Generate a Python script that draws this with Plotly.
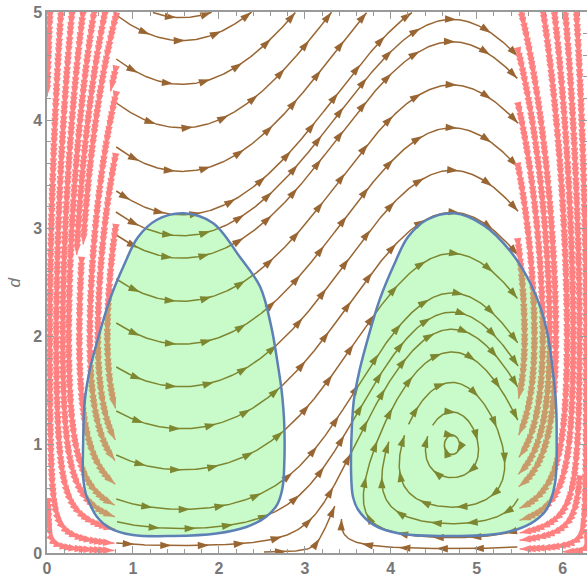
import math
from collections import defaultdict, deque
import plotly.graph_objects as go

# ---------------- data ----------------
W, H = 587, 577
X_RANGE = [0.0, 2 * math.pi]
Y_RANGE = [0.0, 5.0]
X_TICKS = [0, 1, 2, 3, 4, 5, 6]
Y_TICKS = [0, 1, 2, 3, 4, 5]
Y_LABEL = "d"

# theta limits of the brown stream domain (pink streams outside it)
STREAM_SPLIT = [0.8, 2 * math.pi - 0.8]
# pink field coefficients
PINK_TURN_D = 2.0
PINK_K = 0.7
PINK_DRIFT = 0.1
PINK_SPREAD = 0.6

# shaded regions (theta, d)
LEFT_T = [1.585, 1.28, 1.06, 0.89, 0.73, 0.60, 0.50, 0.44, 0.42, 0.42, 0.45, 0.50, 0.58,
          0.73, 1.00, 1.47, 1.97, 2.32, 2.55, 2.68, 2.74, 2.76, 2.76, 2.73, 2.69, 2.61,
          2.48, 2.24, 1.93, 1.585]
LEFT_D = [3.14, 3.08, 2.92, 2.65, 2.34, 2.00, 1.70, 1.41, 1.00, 0.70, 0.55, 0.45, 0.335,
          0.23, 0.166, 0.157, 0.18, 0.24, 0.335, 0.45, 0.60, 0.80, 1.20, 1.50, 1.72, 2.09,
          2.46, 2.74, 3.05, 3.14]
RIGHT_T = [4.74, 4.42, 4.20, 4.03, 3.87, 3.74, 3.64, 3.57, 3.54, 3.54, 3.56, 3.62, 3.80,
           4.10, 4.69, 5.27, 5.62, 5.81, 5.91, 5.93, 5.92, 5.88, 5.83, 5.75, 5.62, 5.40,
           5.08, 4.74]
RIGHT_D = [3.14, 3.08, 2.92, 2.65, 2.34, 2.00, 1.70, 1.41, 1.00, 0.70, 0.52, 0.40, 0.26,
           0.18, 0.157, 0.18, 0.27, 0.40, 0.64, 1.11, 1.41, 1.72, 2.00, 2.25, 2.50, 2.78,
           3.03, 3.14]

BROWN = "#996633"
PINK = "#ff8080"
FILL = "rgba(40,235,40,0.25)"
EDGE = "#5e81b5"
AXIS = "#9a9a9a"
LABEL = "#777777"

# ---------------- layout geometry ----------------
ML, MR, MT, MB = 47, 0, 12, 24
SX = (W - ML - MR) / (X_RANGE[1] - X_RANGE[0])
SY = (H - MT - MB) / (Y_RANGE[1] - Y_RANGE[0])


def brown_vec(t, d):
    return d + math.sin(t), -d * math.cos(t)


def pink_left(t, d):
    if d < PINK_TURN_D:
        u = math.sin(t) * (1 - d / PINK_TURN_D)
    else:
        u = -(d / PINK_TURN_D - 1) * (PINK_DRIFT + PINK_SPREAD * math.sin(t))
    return u, -PINK_K * d * math.cos(t)


def pink_vec(t, d):
    if t > math.pi:
        u, v = pink_left(2 * math.pi - t, d)
        return -u, v
    return pink_left(t, d)


def streamlines(vec, xlo, xhi, ylo, yhi, dsep, dtest, step, seeds, fallback, min_len):
    cell = dsep
    grid = defaultdict(list)
    lines = []
    lag = int(3 * dsep / step)

    def key(x, y):
        return (int(x // cell), int(y // cell))

    def direction(x, y):
        u, v = vec(x / SX, y / SY)
        U, V = u * SX, v * SY
        n = math.hypot(U, V)
        if n < 1e-7:
            return None
        return U / n, V / n

    def inside(x, y):
        return xlo <= x <= xhi and ylo <= y <= yhi

    def clear(x, y, dist):
        cx, cy = key(x, y)
        d2 = dist * dist
        for i in (cx - 1, cx, cx + 1):
            for j in (cy - 1, cy, cy + 1):
                for (px, py) in grid.get((i, j), ()):
                    if (px - x) ** 2 + (py - y) ** 2 < d2:
                        return False
        return True

    def integrate(x0, y0):
        local = defaultdict(list)
        local[key(x0, y0)].append((x0, y0, 0))
        dt2 = dtest * dtest

        def own_clear(x, y, idx):
            cx, cy = key(x, y)
            for i in (cx - 1, cx, cx + 1):
                for j in (cy - 1, cy, cy + 1):
                    for (px, py, k) in local.get((i, j), ()):
                        if abs(k - idx) > lag and (px - x) ** 2 + (py - y) ** 2 < dt2:
                            return False
            return True

        parts = []
        for sgn in (1, -1):
            pts = []
            x, y = x0, y0
            for n in range(1, 4000):
                d1 = direction(x, y)
                if d1 is None:
                    break
                xm, ym = x + sgn * d1[0] * step * 0.5, y + sgn * d1[1] * step * 0.5
                d2 = direction(xm, ym)
                if d2 is None:
                    break
                xn, yn = x + sgn * d2[0] * step, y + sgn * d2[1] * step
                if not inside(xn, yn):
                    break
                if not clear(xn, yn, dtest):
                    break
                idx = sgn * n
                if not own_clear(xn, yn, idx):
                    break
                local[key(xn, yn)].append((xn, yn, idx))
                pts.append((xn, yn))
                x, y = xn, yn
            parts.append(pts)
        fwd, bwd = parts
        return bwd[::-1] + [(x0, y0)] + fwd

    queue = deque(seeds)
    fb = deque(fallback)
    m = max(1, int(dsep / (2 * step)))
    while queue or fb:
        if queue:
            x, y = queue.popleft()
        else:
            x, y = fb.popleft()
        if not inside(x, y) or not clear(x, y, dsep):
            continue
        line = integrate(x, y)
        if (len(line) - 1) * step < min_len:
            continue
        for (px, py) in line:
            grid[key(px, py)].append((px, py))
        lines.append(line)
        for i in range(0, len(line), m):
            a = line[max(0, i - 1)]
            b = line[min(len(line) - 1, i + 1)]
            tx, ty = b[0] - a[0], b[1] - a[1]
            n = math.hypot(tx, ty)
            if n == 0:
                continue
            nx, ny = -ty / n, tx / n
            px, py = line[i]
            queue.append((px + nx * dsep, py + ny * dsep))
            queue.append((px - nx * dsep, py - ny * dsep))
    return lines


def arrows(lines, spacing, start_gap):
    xs, ys, ang = [], [], []
    for line in lines:
        s = [0.0]
        for i in range(1, len(line)):
            s.append(s[-1] + math.hypot(line[i][0] - line[i - 1][0], line[i][1] - line[i - 1][1]))
        total = s[-1]
        targets = []
        t = total
        while t >= start_gap:
            targets.append(t)
            t -= spacing
        j = len(line) - 1
        for tg in targets:
            while j > 0 and s[j] > tg:
                j -= 1
            k = min(j + 1, len(line) - 1)
            a = line[max(0, k - 3)]
            b = line[k]
            dx, dy = b[0] - a[0], b[1] - a[1]
            if dx == 0 and dy == 0:
                continue
            xs.append(b[0] / SX)
            ys.append(b[1] / SY)
            ang.append(math.degrees(math.atan2(dx, dy)))
    return xs, ys, ang


def flatten(lines):
    xs, ys = [], []
    for line in lines:
        xs.extend(p[0] / SX for p in line)
        ys.extend(p[1] / SY for p in line)
        xs.append(None)
        ys.append(None)
    return xs, ys


# ---------------- brown streams ----------------
bx0, bx1 = STREAM_SPLIT[0] * SX, STREAM_SPLIT[1] * SX
by0, by1 = 0.0, Y_RANGE[1] * SY
DSEP_B = 22.0
seeds_b = []
yy = by1 - 3
while yy > 2:
    seeds_b.append((bx0 + 0.5, yy))
    yy -= DSEP_B
fb_b = []
gy = by1 - 5
while gy > 2:
    gx = bx0 + 5
    while gx < bx1:
        fb_b.append((gx, gy))
        gx += DSEP_B / 2
    gy -= DSEP_B / 2
brown_lines = streamlines(brown_vec, bx0, bx1, by0, by1, DSEP_B, 0.5 * DSEP_B, 1.5,
                          seeds_b, fb_b, 18)

# ---------------- pink streams ----------------
DSEP_P = 11.0
pink_lines = []
for (px0, px1) in [(0.0, STREAM_SPLIT[0] * SX), (STREAM_SPLIT[1] * SX, X_RANGE[1] * SX)]:
    seeds_p = []
    xx = px0 + 3
    while xx < px1:
        seeds_p.append((xx, by1 - 0.5))
        xx += DSEP_P
    fb_p = []
    gy = by1 - 4
    while gy > 2:
        gx = px0 + 3
        while gx < px1:
            fb_p.append((gx, gy))
            gx += DSEP_P / 2
        gy -= DSEP_P / 2
    pink_lines += streamlines(pink_vec, px0, px1, by0, by1, DSEP_P, 0.55 * DSEP_P, 1.5,
                              seeds_p, fb_p, 12)

fig = go.Figure()
lx, ly = flatten(brown_lines)
fig.add_trace(go.Scatter(x=lx, y=ly, mode="lines", line=dict(color=BROWN, width=1.5),
                         hoverinfo="skip"))
ax, ay, aa = arrows(brown_lines, 37, 8)
fig.add_trace(go.Scatter(x=ax, y=ay, mode="markers", hoverinfo="skip",
                         marker=dict(symbol="arrow", size=12, angle=aa, color=BROWN,
                                     line=dict(width=0))))
lx, ly = flatten(pink_lines)
fig.add_trace(go.Scatter(x=lx, y=ly, mode="lines", line=dict(color=PINK, width=1.5),
                         hoverinfo="skip"))
ax, ay, aa = arrows(pink_lines, 5, 4)
fig.add_trace(go.Scatter(x=ax, y=ay, mode="markers", hoverinfo="skip",
                         marker=dict(symbol="arrow", size=12, angle=aa, color=PINK,
                                     line=dict(width=0))))

for tt, dd in [(LEFT_T, LEFT_D), (RIGHT_T, RIGHT_D)]:
    fig.add_trace(go.Scatter(x=tt, y=dd, mode="lines", fill="toself", fillcolor=FILL,
                             line=dict(color=EDGE, width=2.5, shape="spline", smoothing=1.0),
                             hoverinfo="skip"))

tickfont = dict(family="Liberation Sans", size=16, color=LABEL, weight="bold")
common = dict(showgrid=False, zeroline=False, showline=True, linecolor=AXIS, linewidth=1.5,
              ticks="inside", ticklen=7, tickwidth=1.2, tickcolor=AXIS, mirror="ticks",
              tickfont=tickfont, fixedrange=True,
              minor=dict(dtick=0.2, tick0=0, ticks="inside", ticklen=4, tickwidth=1,
                         tickcolor=AXIS, showgrid=False))
fig.update_xaxes(range=X_RANGE, tickvals=X_TICKS, ticktext=[str(v) for v in X_TICKS], **common)
fig.update_yaxes(range=Y_RANGE, tickvals=Y_TICKS, ticktext=[str(v) for v in Y_TICKS], **common)
fig.add_annotation(text="<i>" + Y_LABEL + "</i>", xref="paper", yref="paper",
                   x=-33 / (W - ML - MR), y=0.5, showarrow=False, textangle=-90,
                   font=dict(family="Liberation Sans", size=17, color=LABEL),
                   xanchor="center", yanchor="middle")
fig.update_layout(width=W, height=H, showlegend=False, plot_bgcolor="white",
                  paper_bgcolor="white",
                  margin=dict(l=ML, r=MR, t=MT, b=MB, pad=0, autoexpand=False))
fig.write_html("out.html", config={"displayModeBar": False},
               post_script="document.body.style.margin='0px';document.body.style.overflow='hidden';")
